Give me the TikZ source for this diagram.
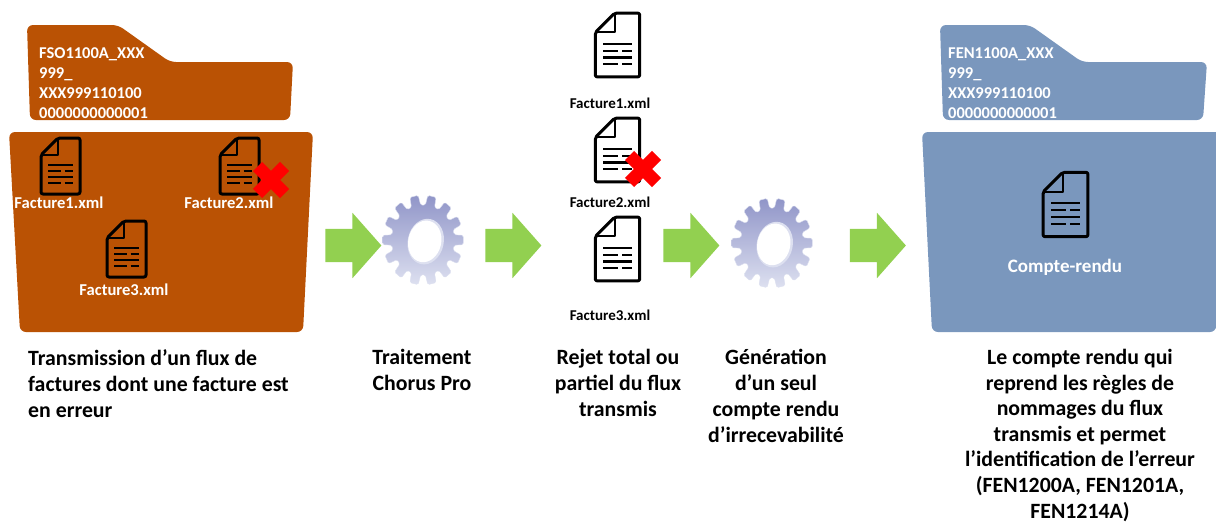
\documentclass[tikz,border=0pt]{standalone}
\usepackage{fontspec}
\setmainfont{Carlito}
\usetikzlibrary{shapes.arrows,shapes.misc}

\definecolor{folderbrown}{HTML}{BA5204}
\definecolor{folderblue}{HTML}{7A97BD}
\definecolor{arrowgreen}{HTML}{92D050}
\definecolor{geartop}{HTML}{9095C8}
\definecolor{gearbottom}{HTML}{DDE0F0}

\tikzset{
    folder/.style={rounded corners=6pt},
    greenarrow/.style={single arrow,fill=arrowgreen,minimum height=56pt,inner xsep=0pt,
        inner ysep=16.5pt,single arrow head extend=16pt,single arrow tip angle=97},
    redcross/.style={cross out,draw=red,line width=13pt,minimum size=27pt,inner sep=0pt,outer sep=0pt},
    foldertext/.style={text=white,anchor=north west,align=left,inner sep=0pt,
        font=\fontsize{16.5}{20}\selectfont\bfseries},
    whitelabel/.style={text=white,inner sep=0pt,font=\fontsize{16.6}{18}\selectfont\bfseries},
    blacklabel/.style={inner sep=0pt,font=\fontsize{15}{16}\selectfont\bfseries},
    caption/.style={anchor=north,inner sep=0pt,font=\fontsize{21.8}{26}\selectfont\bfseries},
    doc/.pic={
        \draw [line width=3pt,rounded corners=2pt,line join=round]
            (-19.5,-11) -- (-2.5,-28) -- (19.5,-28) -- (19.5,28) -- (-19.5,28) -- cycle;
        \draw [line width=2pt,line join=round] (-2.5,-28) -- (-2.5,-11) -- (-19.5,-11);
        \foreach \y in {-1,11}{%
            \draw [line width=2.2pt] (-12.5,\y) -- (12.5,\y);}
        \foreach \y in {5,17}{%
            \draw [line width=2.2pt] (-12.5,\y) -- (0,\y);
            \draw [line width=2.2pt] (4,\y) -- (12.5,\y);}
    },
    gear/.pic={
        \shade [top color=geartop,bottom color=gearbottom,draw=gearbottom,line width=.4pt,
            xscale=.9,line join=round,rounded corners=1.5pt]
            (-8.5:35) \foreach \i [evaluate=\i as \a using (\i-1)*360/14] in {1,...,14}{
                -- (\a-8.5:35) -- (\a-6:45) -- (\a+6:45) -- (\a+8.5:35)} -- cycle;
        \fill [color=gearbottom,rotate=-12] (3,1) ellipse (18 and 23);
        \fill [color=white,rotate=-12] (2,1) ellipse (16.5 and 21);
    }
}

\begin{document}
\begin{tikzpicture}[x=1pt,y=-1pt]
    \useasboundingbox (0,0) rectangle (1216,522);

    % dossier de gauche
    \fill [folder,color=folderbrown] (27,25) -- (118,25) -- (170,62) -- (293,62) -- (290,120) -- (30,120) -- cycle;
    \fill [folder,color=folderbrown] (9,132) -- (313,132) -- (303,332) -- (20,332) -- cycle;
    \node (nameleft) [foldertext] at (39,47) {FSO1100A\_XXX\\999\_\\XXX999110100\\0000000000001};

    \foreach \x/\y/\lx/\ly/\n in {60.5/166/59/203/1,239.5/166/229/203/2,126.5/249/124/290/3}{%
        \pic at (\x,\y) {doc};
        \node (left\n) [whitelabel] at (\lx,\ly) {Facture\n.xml};}
    \node (crossleft) [redcross] at (271,180) {};

    % colonne du milieu
    \foreach \y/\ly/\n in {45/103/1,150/202/2,249/315/3}{%
        \pic [scale=1.14] at (617.5,\y) {doc};
        \node (mid\n) [blacklabel] at (610,\ly) {Facture\n.xml};}
    \node (crossmid) [redcross] at (643,169) {};

    \pic at (423,240) {gear};
    \pic at (772,243) {gear};

    % dossier de droite
    \fill [folder,color=folderblue] (940,25) -- (1030,25) -- (1082,62) -- (1207,62) -- (1203,120) -- (943,120) -- cycle;
    \fill [folder,color=folderblue] (922,132) -- (1226,132) -- (1216,332) -- (932,332) -- cycle;
    \node (nameright) [foldertext] at (948,47) {FEN1100A\_XXX\\999\_\\XXX999110100\\0000000000001};
    \pic [scale=1.15] at (1065.5,204.5) {doc};
    \node (report) [whitelabel,font=\fontsize{19}{22}\selectfont\bfseries] at (1065,267) {Compte-rendu};

    % fleches
    \foreach \x/\n in {346/a,506/b,684/c,870.5/d}{%
        \node (arrow\n) [greenarrow] at (\x,245.5) {};}

    % legendes
    \node (captionA) [caption,anchor=north west,align=left] at (28,349)
        {Transmission d’un flux de\\factures dont une facture est\\en erreur};
    \node (captionB) [caption,align=center] at (422,349) {Traitement\\Chorus Pro};
    \node (captionC) [caption,align=center] at (618,349) {Rejet total ou\\partiel du flux\\transmis};
    \node (captionD) [caption,align=center] at (776,349) {Génération\\d’un seul\\compte rendu\\d’irrecevabilité};
    \node (captionE) [caption,align=center,font=\fontsize{21.8}{25.6}\selectfont\bfseries] at (1080,349)
        {Le compte rendu qui\\reprend les règles de\\nommages du flux\\transmis et permet\\l’identification de l’erreur\\(FEN1200A, FEN1201A,\\FEN1214A)};
\end{tikzpicture}
\end{document}
